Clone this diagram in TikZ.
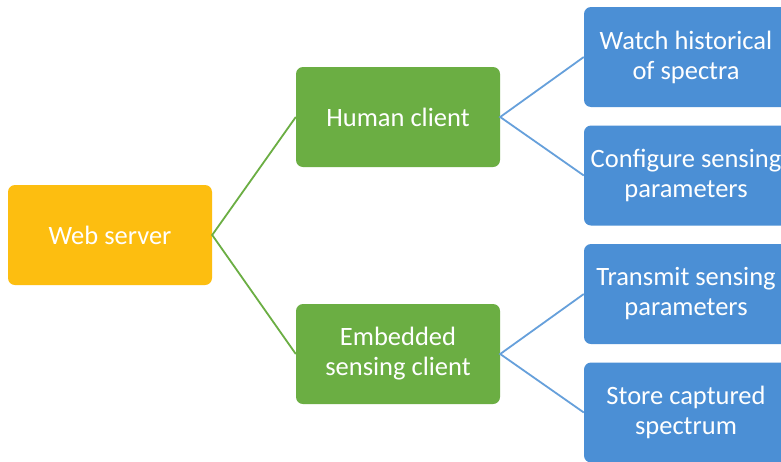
\documentclass[tikz,border=0pt]{standalone}
\usepackage{fontspec}
\setmainfont{Carlito}
\definecolor{goldc}{HTML}{FDBE10}
\definecolor{greenc}{HTML}{6BAE43}
\definecolor{bluec}{HTML}{4B8FD5}
\begin{document}
\begin{tikzpicture}[x=1pt,y=-1pt,
  box/.style={draw=none,rounded corners=7pt,minimum width=204pt,minimum height=100pt,
    inner sep=0pt,text=white,align=center,font=\fontsize{26.5}{30}\selectfont},
  goldbox/.style={box,fill=goldc},
  greenbox/.style={box,fill=greenc},
  bluebox/.style={box,fill=bluec},
  gline/.style={draw=greenc,line width=1.8pt},
  bline/.style={draw=bluec!85,line width=1.8pt}]
\clip (0,0) rectangle (781,461);
\fill[white] (0,0) rectangle (781,461);
\node[goldbox] (ws) at (110,235) {Web server};
\node[greenbox] (hc) at (398,117) {Human client};
\node[greenbox] (ec) at (398,354) {Embedded\\sensing client};
\node[bluebox] (b1) at (686,57) {Watch historical\\of spectra};
\node[bluebox] (b2) at (686,175.5) {Configure sensing\\parameters};
\node[bluebox] (b3) at (686,294) {Transmit sensing\\parameters};
\node[bluebox] (b4) at (686,412.5) {Store captured\\spectrum};
\draw[gline] (hc.west) -- (ws.east) -- (ec.west);
\draw[bline] (b1.west) -- (hc.east) -- (b2.west);
\draw[bline] (b3.west) -- (ec.east) -- (b4.west);
\end{tikzpicture}
\end{document}
